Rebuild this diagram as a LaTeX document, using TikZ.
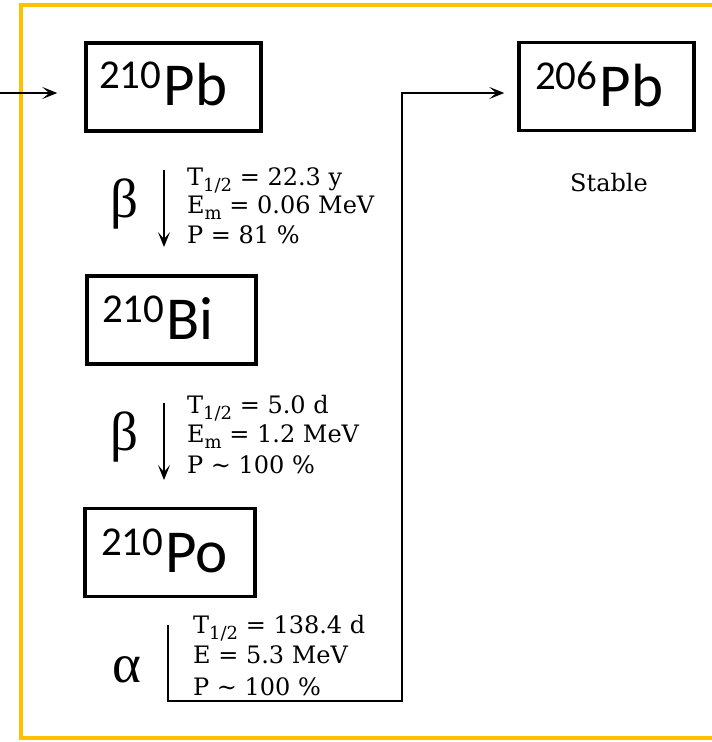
\documentclass[tikz,border=0pt]{standalone}
\usepackage{fontspec}
\setmainfont{DejaVu Serif}
\newfontfamily\calib{Carlito}
\newfontfamily\grk{Liberation Serif}
\usetikzlibrary{arrows.meta}
\definecolor{framegold}{HTML}{FFC000}
\newcommand{\isotope}[2]{{\calib\fontsize{61}{61}\selectfont\raisebox{17pt}{\fontsize{41}{41}\selectfont #1}\kern2pt #2}}
\newcommand{\subx}[1]{\raisebox{-6pt}{\fontsize{18}{18}\selectfont #1}}
\begin{document}
\begin{tikzpicture}[x=1pt,y=-1pt,
  nucbox/.style={draw, line width=3.5pt, inner sep=0pt, minimum height=88pt},
  isolabel/.style={anchor=base west, inner sep=0pt},
  datatext/.style={anchor=base west, inner sep=0pt, font=\fontsize{24}{24}\selectfont},
  greeklabel/.style={anchor=base, inner sep=0pt, font=\grk\fontsize{55}{55}\selectfont},
  arr/.style={line width=1.3pt, -{Stealth[length=15pt,width=12pt,inset=7pt]}},
  bracket/.style={line width=1.2pt}]
\useasboundingbox (0,0) rectangle (712,742);
\clip (0,0) rectangle (712,742);
% frame
\draw[framegold, line width=4pt] (760,5) -- (21,5) -- (21,738) -- (760,738);
% boxes
\node[nucbox, minimum width=175pt] (pb210) at (173.5,87) {};
\node[nucbox, minimum width=169pt] (bi210) at (171.5,320) {};
\node[nucbox, minimum width=170pt] (po210) at (170,552.5) {};
\node[nucbox, minimum width=175pt] (pb206) at (606.5,86.5) {};
% isotope labels
\node[isolabel] (pb210t) at (99,105) {\isotope{210}{Pb}};
\node[isolabel] (bi210t) at (102,339) {\isotope{210}{Bi}};
\node[isolabel] (po210t) at (101,572) {\isotope{210}{Po}};
\node[isolabel] (pb206t) at (535,106) {\isotope{206}{Pb}};
\node[anchor=base, inner sep=0pt, font=\fontsize{24}{24}\selectfont] (stable) at (609,191) {Stable};
% decay symbols
\node[greeklabel] (beta1) at (124,217) {β};
\node[greeklabel] (beta2) at (124,450) {β};
\node[greeklabel] (alpha1) at (127,682) {α};
% data text
\node[datatext] (t1) at (187,185) {T\subx{1/2} = 22.3 y};
\node[datatext] (e1) at (187,213) {E\subx{m} = 0.06 MeV};
\node[datatext] (p1) at (187,243) {P = 81 \%};
\node[datatext] (t2) at (187,413) {T\subx{1/2} = 5.0 d};
\node[datatext] (e2) at (187,442) {E\subx{m} = 1.2 MeV};
\node[datatext] (p2) at (187,473) {P \textasciitilde{} 100 \%};
\node[datatext] (t3) at (193,633) {T\subx{1/2} = 138.4 d};
\node[datatext] (e3) at (193,663) {E = 5.3 MeV};
\node[datatext] (p3) at (193,695) {P \textasciitilde{} 100 \%};
% connectors
\coordinate (entry) at (0,93);
\draw[arr, shorten >=27pt] (entry) -- (entry -| pb210.west);
\coordinate (b1a) at (164,170);
\coordinate (b1b) at (164,247);
\draw[arr] (b1a) -- (b1b);
\coordinate (b2a) at (164,403);
\coordinate (b2b) at (164,480);
\draw[arr] (b2a) -- (b2b);
\coordinate (a1) at (168,625);
\coordinate (a2) at (402,701);
\coordinate (a3) at (402,93);
\draw[arr, shorten >=13pt] (a1) |- (a2) -- (a3) -- (a3 -| pb206.west);
\end{tikzpicture}
\end{document}
